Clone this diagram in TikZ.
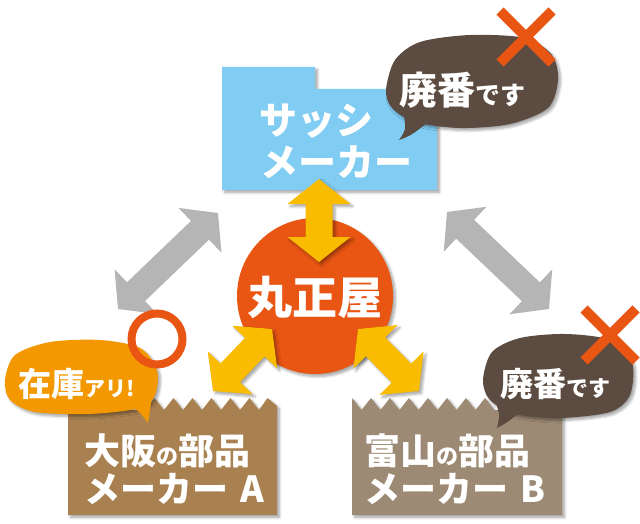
\documentclass[tikz,border=0pt]{standalone}
\usepackage{fontspec}
\newfontfamily\jp{Noto Sans CJK JP}
\usetikzlibrary{calc,shadows.blur}
\definecolor{sky}{HTML}{80CCF2}
\definecolor{bubbrown}{HTML}{5C4B40}
\definecolor{xred}{HTML}{E95513}
\definecolor{circ}{HTML}{E95513}
\definecolor{yel}{HTML}{F9BC00}
\definecolor{gry}{HTML}{B5B5B5}
\definecolor{boxa}{HTML}{A98150}
\definecolor{boxb}{HTML}{9D8A74}
\definecolor{orgbub}{HTML}{F39800}
\tikzset{
  shad/.style={blur shadow={shadow xshift=2.5pt,shadow yshift=-2.5pt,shadow blur radius=2.5pt,shadow blur steps=6,shadow opacity=35}},
  lbl/.style={inner sep=0pt, anchor=base west, text=white, font=\jp\bfseries},
  xmark/.style={draw=xred, line width=10pt},
}
\newcommand\Fs[2]{{\fontsize{#1}{#1}\selectfont #2}}
% #1 A, #2 B, #3 half shaft, #4 half head, #5 head length, #6 style
\newcommand\bigarrow[6]{%
  \coordinate (ha) at ($(#1)!#5!(#2)$);
  \coordinate (hb) at ($(#2)!#5!(#1)$);
  \fill[#6] (#1) -- ($(ha)!#4!90:(#2)$) -- ($(ha)!#3!90:(#2)$)
    -- ($(hb)!#3!-90:(#1)$) -- ($(hb)!#4!-90:(#1)$) -- (#2)
    -- ($(hb)!#4!90:(#1)$) -- ($(hb)!#3!90:(#1)$)
    -- ($(ha)!#3!-90:(#2)$) -- ($(ha)!#4!-90:(#2)$) -- cycle;
}
\begin{document}
\begin{tikzpicture}[x=1pt,y=-1pt]
\useasboundingbox (0,0) rectangle (640,524);

% gray arrows
\coordinate (gl1) at (118,309);
\coordinate (gl2) at (218,213);
\coordinate (gr1) at (447,212);
\coordinate (gr2) at (549,309);
\bigarrow{gl1}{gl2}{13pt}{31pt}{25pt}{gry}
\bigarrow{gr1}{gr2}{13pt}{31pt}{25pt}{gry}

% sash maker box
\fill[sky,shad] (222,67) -- (315,67) -- (315,89) -- (437,89) -- (437,190) -- (222,190) -- cycle;

% top bubble
\fill[bubbrown,shad] plot[smooth cycle] coordinates {(386,90) (395,60) (420,42) (470,35) (525,38) (552,55) (558,80) (548,108) (510,124) (460,128) (415,122) (392,108)};
\fill[bubbrown] (404,116) .. controls (406,130) .. (399,140) .. controls (410,136) .. (426,124) -- cycle;
\draw[xmark] (500,11) -- (552,63);
\draw[xmark] (552,11) -- (500,63);

% central circle
\fill[circ,shad] (315,296) circle[radius=78];

% yellow arrows
\coordinate (yv1) at (319,262);
\coordinate (yv2) at (319,179);
\coordinate (yl1) at (213,391);
\coordinate (yl2) at (272,329);
\coordinate (yr1) at (358,329);
\coordinate (yr2) at (419,391);
\bigarrow{yv1}{yv2}{13.5pt}{31.5pt}{25pt}{yel,shad}
\bigarrow{yl1}{yl2}{13.5pt}{31pt}{25pt}{yel,shad}
\bigarrow{yr1}{yr2}{13.5pt}{31pt}{25pt}{yel,shad}

% box A
\fill[boxa,shad] (68,410) -- (145,410)
  -- (154.5,398) -- (164,410) -- (173.5,398) -- (183,410) -- (192.5,398) -- (202,410)
  -- (211.5,398) -- (221,410) -- (230.5,398) -- (240,410) -- (249.5,398) -- (259,410)
  -- (267.5,398) -- (277,406) -- (277,515) -- (68,515) -- cycle;

% box B
\fill[boxb,shad] (352,398) -- (361.5,410) -- (371,398) -- (380.5,410) -- (390,398) -- (399.5,410)
  -- (409,398) -- (418.5,410) -- (428,398) -- (437.5,410) -- (447,398) -- (456.5,410)
  -- (466,398) -- (475.5,410) -- (485,398) -- (494.5,410) -- (562,410) -- (562,515) -- (352,515) -- cycle;

% orange bubble
\fill[orgbub,shad] plot[smooth cycle] coordinates {(5,380) (15,355) (50,342) (100,340) (140,348) (157,370) (155,395) (140,408) (90,414) (35,412) (10,400)};
\fill[orgbub] (130,405) .. controls (140,412) .. (148,423) .. controls (150,410) .. (153,390) -- cycle;
\draw[xred, line width=8pt] (157,339) circle[radius=25.5];

% bottom-right bubble
\fill[bubbrown,shad] plot[smooth cycle] coordinates {(483,380) (492,352) (520,338) (565,334) (610,340) (632,362) (630,395) (610,412) (560,418) (515,414) (490,400)};
\fill[bubbrown] (495,400) .. controls (500,415) .. (497,428) .. controls (508,422) .. (520,412) -- cycle;
\draw[xmark] (584,309) -- (636,361);
\draw[xmark] (636,309) -- (584,361);

% texts
\node[lbl] (sash1) at (259,135) {\Fs{38}{サッシ}};
\node[lbl] (sash2) at (260,176) {\Fs{38}{メーカー}};
\node[lbl] (haiban1) at (399,105) {\Fs{38}{廃番}\Fs{25}{です}};
\node[inner sep=0pt, text=white, font=\jp\bfseries] (maru) at (315,297) {\Fs{45}{丸正屋}};
\node[lbl] (osaka1) at (84,464) {\Fs{36}{大阪}\Fs{22}{の}\Fs{36}{部品}};
\node[lbl] (osaka2) at (84,502) {\Fs{36}{メーカー\hspace{12pt}A}};
\node[lbl] (toyama1) at (364,464) {\Fs{36}{富山}\Fs{22}{の}\Fs{36}{部品}};
\node[lbl] (toyama2) at (364,502) {\Fs{36}{メーカー\hspace{12pt}B}};
\node[lbl] (zaiko) at (18,396) {\Fs{33}{在庫}\Fs{21}{アリ!}};
\node[lbl] (haiban2) at (500,396) {\Fs{33}{廃番}\Fs{22}{です}};
\end{tikzpicture}
\end{document}
